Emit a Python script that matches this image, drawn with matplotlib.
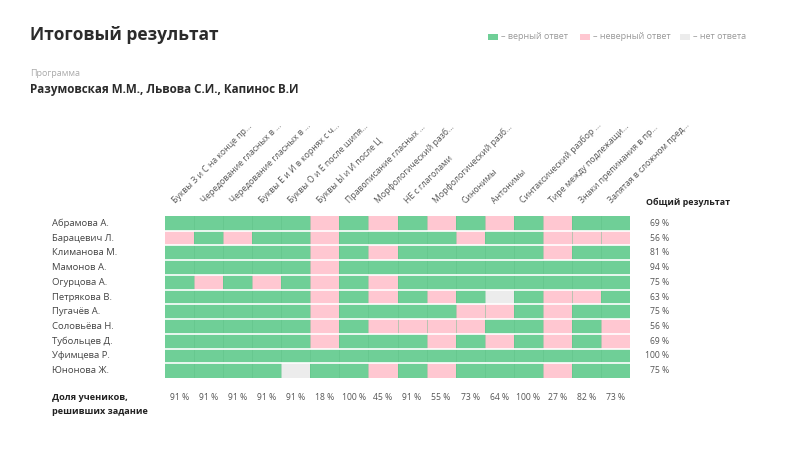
import numpy as np
import matplotlib.pyplot as plt
from matplotlib.colors import ListedColormap
from matplotlib.patches import Rectangle

plt.rcParams['font.family'] = ['Open Sans', 'DejaVu Sans']

students = ['Абрамова А.', 'Барацевич Л.', 'Климанова М.', 'Мамонов А.', 'Огурцова А.',
            'Петрякова В.', 'Пугачёв А.', 'Соловьёва Н.', 'Тубольцев Д.', 'Уфимцева Р.',
            'Юнонова Ж.']

tasks = ['Буквы З и С на конце пр...', 'Чередование гласных в ...', 'Чередование гласных в ...',
         'Буквы Е и И в корнях с ч...', 'Буквы О и Ё после шипя...', 'Буквы Ы и И после Ц',
         'Правописание гласных ...', 'Морфологический разб...', 'НЕ с глаголами',
         'Морфологический разб...', 'Синонимы', 'Антонимы', 'Синтаксический разбор ...',
         'Тире между подлежащи...', 'Знаки препинания в пр...', 'Запятая в сложном пред...']

# 1 - верный ответ, 0 - неверный, -1 - нет ответа
answers = [
    [1, 1, 1, 1, 1, 0, 1, 0, 1, 0, 1, 0, 1, 0, 1, 1],
    [0, 1, 0, 1, 1, 0, 1, 1, 1, 1, 0, 1, 1, 0, 0, 0],
    [1, 1, 1, 1, 1, 0, 1, 0, 1, 1, 1, 1, 1, 0, 1, 1],
    [1, 1, 1, 1, 1, 0, 1, 1, 1, 1, 1, 1, 1, 1, 1, 1],
    [1, 0, 1, 0, 1, 0, 1, 0, 1, 1, 1, 1, 1, 1, 1, 1],
    [1, 1, 1, 1, 1, 0, 1, 0, 1, 0, 1, -1, 1, 0, 0, 1],
    [1, 1, 1, 1, 1, 0, 1, 1, 1, 1, 0, 0, 1, 0, 1, 1],
    [1, 1, 1, 1, 1, 0, 1, 0, 0, 0, 0, 1, 1, 0, 1, 0],
    [1, 1, 1, 1, 1, 0, 1, 1, 1, 0, 1, 0, 1, 0, 1, 0],
    [1, 1, 1, 1, 1, 1, 1, 1, 1, 1, 1, 1, 1, 1, 1, 1],
    [1, 1, 1, 1, -1, 1, 1, 0, 1, 0, 1, 1, 1, 0, 1, 1],
]

student_pct = [69, 56, 81, 94, 75, 63, 75, 56, 69, 100, 75]
task_pct = [91, 91, 91, 91, 91, 18, 100, 45, 91, 55, 73, 64, 100, 27, 82, 73]

GREEN = '#6fcf97'
PINK = '#ffc7d1'
GREY = '#ececec'
W, H = 800, 449


def fx(x):
    return x / W


def fy(y):
    return 1 - y / H


fig = plt.figure(figsize=(8, 4.49), dpi=100)
fig.patch.set_facecolor('white')

left, right, top, bottom = 165, 630, 216, 378
ax = fig.add_axes([fx(left), fy(bottom), (right - left) / W, (bottom - top) / H])

data = np.array(answers)
cmap = ListedColormap([GREY, PINK, GREEN])
nr, nc = data.shape
ax.pcolormesh(np.arange(nc + 1), np.arange(nr + 1), data, cmap=cmap, vmin=-1.5, vmax=1.5)
ax.set_xlim(0, nc)
ax.set_ylim(nr, 0)
for c in range(1, nc):
    ax.axvline(c, color='#5cbf85', lw=0.5, alpha=0.6)
for r in range(1, nr):
    ax.axhline(r, color='white', lw=1.2)
ax.set_axis_off()

# column headers
for i, t in enumerate(tasks):
    ax.text(i + 0.4, -0.75, t, rotation=45, rotation_mode='anchor', ha='left', va='bottom',
            fontsize=6.2, color='#555555', clip_on=False)

# student names and total
for r, name in enumerate(students):
    y = fy(top + (r + 0.5) * (bottom - top) / nr)
    fig.text(fx(52), y, name, ha='left', va='center', fontsize=6.8, color='#444444')
    fig.text(fx(669), y, f'{student_pct[r]} %', ha='right', va='center', fontsize=6.2, color='#555555')

fig.text(fx(646), fy(202), 'Общий результат', ha='left', va='center', fontsize=6.4,
         fontweight='bold', color='#222222')

# bottom row
for i, p in enumerate(task_pct):
    x = fx(left + (i + 0.5) * (right - left) / nc)
    fig.text(x, fy(398), f'{p} %', ha='center', va='center', fontsize=6.2, color='#555555')
fig.text(fx(52), fy(398), 'Доля учеников,', ha='left', va='center', fontsize=6.6,
         fontweight='bold', color='#222222')
fig.text(fx(52), fy(411), 'решивших задание', ha='left', va='center', fontsize=6.6,
         fontweight='bold', color='#222222')

# titles
fig.text(fx(30), fy(35), 'Итоговый результат', ha='left', va='center', fontsize=12.5,
         fontweight='bold', color='#2b2b2b')
fig.text(fx(30), fy(74), 'Программа', ha='left', va='center', fontsize=6.5, color='#aaaaaa')
fig.text(fx(30), fy(89), 'Разумовская М.М., Львова С.И., Капинос В.И', ha='left', va='center',
         fontsize=8.4, fontweight='bold', color='#2b2b2b')

# legend
legend_items = [(488, GREEN, '– верный ответ'), (580, PINK, '– неверный ответ'),
                (680, GREY, '– нет ответа')]
for x0, col, lab in legend_items:
    fig.patches.append(Rectangle((fx(x0), fy(40)), 10 / W, 6 / H, transform=fig.transFigure,
                                 facecolor=col, edgecolor='none'))
    fig.text(fx(x0 + 13), fy(36.5), lab, ha='left', va='center', fontsize=6.5, color='#999999')

fig.savefig('out.png', dpi=100)
